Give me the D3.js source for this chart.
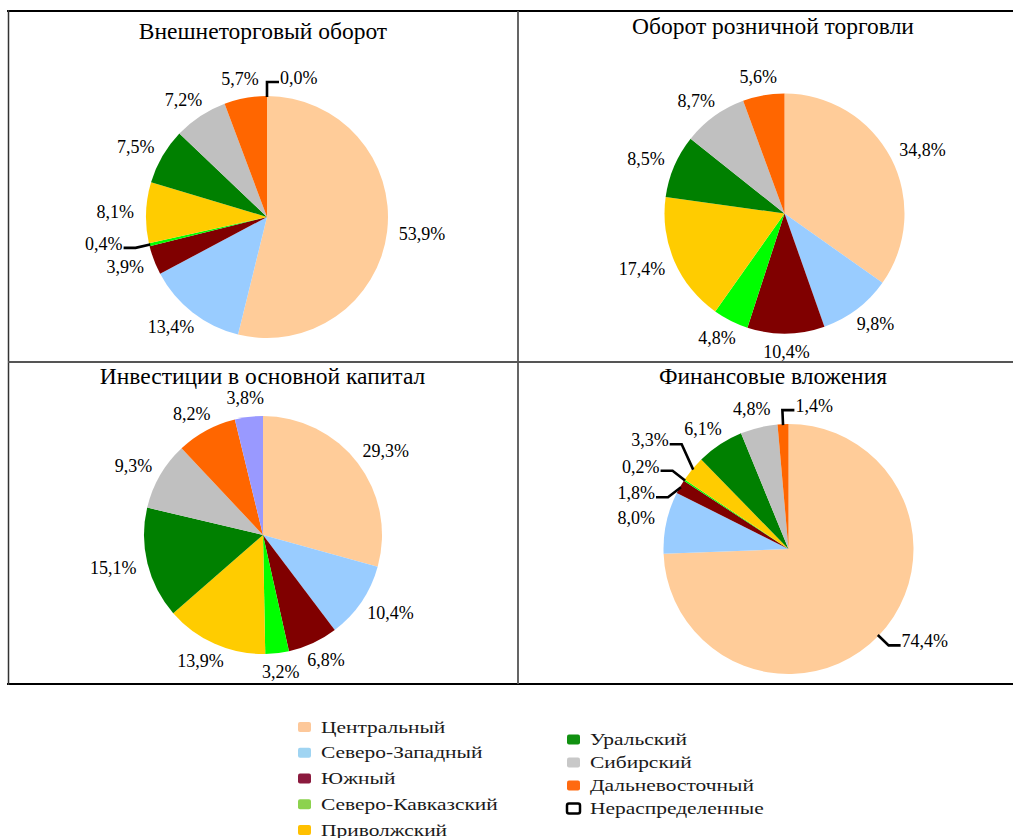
<!DOCTYPE html>
<html>
<head>
<meta charset="utf-8">
<script src="https://cdnjs.cloudflare.com/ajax/libs/d3/7.8.5/d3.min.js"></script>
<style>
  body { margin: 0; background: #fff; }
  svg { display: block; }
</style>
</head>
<body>
<svg id="chart" width="1013" height="838"></svg>
<script>
// --- data ---
const regions = ['Центральный', 'Северо-Западный', 'Южный', 'Северо-Кавказский', 'Приволжский',
    'Уральский', 'Сибирский', 'Дальневосточный', 'Нераспределенные'];
const sliceColors = ['#ffcc99', '#99ccff', '#800000', '#00ff00', '#ffcc00', '#008000', '#c0c0c0', '#ff6600', '#9999ff'];
const legendColors = ['#fdc89a', '#9fd4f2', '#8b1a3e', '#8cd24e', '#ffc000', '#119111', '#c8c8c8', '#ff6a10', '#ffffff'];

const titles = ['Внешнеторговый оборот', 'Оборот розничной торговли', 'Инвестиции в основной капитал', 'Финансовые вложения'];

// shares, % (null = not shown)
const foreignTrade = [53.9, 13.4, 3.9, 0.4, 8.1, 7.5, 7.2, 5.7, 0.0];
const retailTrade  = [34.8, 9.8, 10.4, 4.8, 17.4, 8.5, 8.7, 5.6, null];
const investments  = [29.3, 10.4, 6.8, 3.2, 13.9, 15.1, 9.3, 8.2, 3.8];
const financial    = [74.4, 8.0, 1.8, 0.2, 3.3, 6.1, 4.8, 1.4, null];

// slices whose labels were pulled out with a leader line
const leaders1 = [3, 8];
const leaders4 = [0, 2, 3, 4, 7];

// --- layout ---
const FONT = 'Liberation Serif';
const panels = [
    { title: titles[0], values: foreignTrade, leaders: leaders1, cx: 267, cy: 217, r: 121, tx: 263, ty: 39 },
    { title: titles[1], values: retailTrade,  leaders: [],       cx: 784.5, cy: 213.5, r: 120, tx: 773, ty: 34 },
    { title: titles[2], values: investments,  leaders: [],       cx: 263, cy: 535, r: 119, tx: 262.5, ty: 384 },
    { title: titles[3], values: financial,    leaders: leaders4, cx: 788.5, cy: 549, r: 125, tx: 773, ty: 384 }
];

const svg = d3.select('#chart');
const fmt = v => d3.format('.1f')(v).replace('.', ',') + '%';

// table grid
const grid = svg.append('g');
grid.append('line').attr('x1', 7).attr('x2', 1013).attr('y1', 11).attr('y2', 11).attr('stroke', '#000').attr('stroke-width', 2);
grid.append('line').attr('x1', 7).attr('x2', 1013).attr('y1', 684).attr('y2', 684).attr('stroke', '#000').attr('stroke-width', 2);
grid.append('line').attr('x1', 8.5).attr('x2', 8.5).attr('y1', 10).attr('y2', 685).attr('stroke', '#333').attr('stroke-width', 1.5);
grid.append('line').attr('x1', 518).attr('x2', 518).attr('y1', 11).attr('y2', 684).attr('stroke', '#555').attr('stroke-width', 1.8);
grid.append('line').attr('x1', 8).attr('x2', 1013).attr('y1', 362).attr('y2', 362).attr('stroke', '#555').attr('stroke-width', 1.8);

const pie = d3.pie().sort(null).value(d => d.value);

function pctText(sel) {
    return sel.attr('font-family', FONT).attr('font-size', 18).attr('fill', '#000');
}

// symmetric spreading of stacked leader labels
function spread(items, gap) {
    items.sort((a, b) => a.y - b.y);
    let clusters = items.map(d => ({ items: [d], top: d.y }));
    let merged = true;
    while (merged) {
        merged = false;
        for (let i = 0; i < clusters.length - 1; i++) {
            const a = clusters[i], b = clusters[i + 1];
            if (b.top - (a.top + (a.items.length - 1) * gap) < gap) {
                const all = a.items.concat(b.items);
                const mean = d3.mean(all, d => d.y);
                clusters.splice(i, 2, { items: all, top: mean - (all.length - 1) * gap / 2 });
                merged = true;
                break;
            }
        }
    }
    clusters.forEach(c => c.items.forEach((d, k) => { d.ly = c.top + k * gap; }));
}

panels.forEach(p => {
    const data = p.values.map((v, i) => ({ i, value: v })).filter(d => d.value !== null);
    const arcs = pie(data);
    const arc = d3.arc().innerRadius(0).outerRadius(p.r);
    const g = svg.append('g').attr('transform', `translate(${p.cx},${p.cy})`);

    g.selectAll('path.slice').data(arcs).join('path')
        .attr('class', 'slice')
        .attr('d', arc)
        .attr('fill', d => sliceColors[d.data.i]);

    svg.append('text')
        .attr('font-family', FONT).attr('font-size', 23.5).attr('fill', '#000')
        .attr('x', p.tx).attr('y', p.ty).attr('text-anchor', 'middle')
        .text(p.title);

    const gap = 12, lg = 14, tail = 12;
    const lead = [];
    arcs.forEach(d => {
        const a = (d.startAngle + d.endAngle) / 2;
        const sa = Math.sin(a), ca = Math.cos(a);
        const label = fmt(d.data.value);
        if (p.leaders.includes(d.data.i)) {
            const deg = (a * 180 / Math.PI) % 360;
            const right = deg < 180 || deg > 345;
            lead.push({ d, label, right,
                ex: sa * (p.r - 1), ey: -ca * (p.r - 1),
                x: sa * (p.r + lg), y: -ca * (p.r + lg) });
            return;
        }
        const t = g.append('text').call(pctText).attr('text-anchor', 'middle').text(label);
        const w = t.node().getComputedTextLength();
        const h = 14;
        t.attr('x', sa * (p.r + gap) + sa * w / 2)
         .attr('y', -ca * (p.r + gap) - ca * h / 2 + 6);
    });

    ['left', 'right'].forEach(side => {
        const items = lead.filter(l => (side === 'right') === l.right);
        if (!items.length) return;
        spread(items, 26.5);
        items.forEach(l => {
            const dir = l.right ? 1 : -1;
            g.append('path')
                .attr('d', `M${l.ex},${l.ey}L${l.x},${l.ly}L${l.x + dir * tail},${l.ly}`)
                .attr('fill', 'none').attr('stroke', '#000').attr('stroke-width', 2.6);
            g.append('text').call(pctText)
                .attr('text-anchor', l.right ? 'start' : 'end')
                .attr('x', l.x + dir * (tail + 1)).attr('y', l.ly + 2)
                .text(l.label);
        });
    });
});

// legend
const legendCols = [
    { items: d3.range(0, 5), x: 298, y0: 727, step: 25.75 },
    { items: d3.range(5, 9), x: 567, y0: 739.5, step: 23 }
];
legendCols.forEach(col => {
    const lg = svg.append('g');
    col.items.forEach((idx, k) => {
        const y = col.y0 + k * col.step;
        lg.append('rect')
            .attr('x', col.x).attr('y', y - 5).attr('width', 13).attr('height', 10).attr('rx', 2)
            .attr('fill', legendColors[idx])
            .attr('stroke', idx === 8 ? '#000' : 'none').attr('stroke-width', idx === 8 ? 2.5 : 0);
        // the legend lettering is drawn wide in the original
        lg.append('text')
            .attr('font-family', FONT).attr('font-size', 16.5).attr('fill', '#1a1a1a')
            .attr('transform', `translate(${col.x + 23},${y + 5.5}) scale(1.3,1)`)
            .text(regions[idx]);
    });
});
</script>
</body>
</html>
